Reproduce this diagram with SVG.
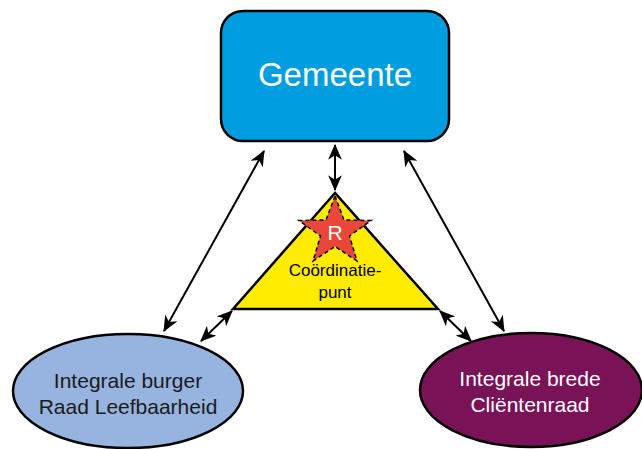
<svg xmlns="http://www.w3.org/2000/svg" width="642" height="449" viewBox="0 0 642 449">
<style>
text{font-family:"Liberation Sans",Arial,sans-serif;text-anchor:middle}
.conn{stroke:#000;stroke-width:2;fill:none;marker-start:url(#ah);marker-end:url(#ah)}
.node{stroke:#000;stroke-width:2.5}
</style>
<defs>
<marker id="ah" viewBox="0 0 14 12" refX="13" refY="6" markerWidth="8" markerHeight="7" markerUnits="strokeWidth" orient="auto-start-reverse">
<path d="M0,0 L14,6 L0,12 L4,6 Z" fill="#000"/>
</marker>
</defs>
<g id="connectors">
<line class="conn" x1="335" y1="145" x2="335" y2="190"/>
<line class="conn" x1="264" y1="151" x2="164" y2="331"/>
<line class="conn" x1="232" y1="311" x2="201" y2="341"/>
<line class="conn" x1="404" y1="151" x2="504" y2="331"/>
<line class="conn" x1="440" y1="311" x2="471" y2="341"/>
</g>
<g id="gemeente">
<rect class="node" x="221" y="11" width="228" height="130" rx="22" fill="#009EE0"/>
<text x="335" y="86" font-size="33" fill="#fff">Gemeente</text>
</g>
<g id="coordinatiepunt">
<polygon class="node" points="335,193 233,309 438,309" fill="#FFEC00"/>
<polygon points="335,196 344,220 371,220.5 349.5,236 357,261 335,246.5 313,261 320.5,236 299,220.5 326,220" fill="#E8473A" stroke="#000" stroke-width="1.5" stroke-dasharray="4,3"/>
<text x="335" y="240" font-size="21" fill="#fff">R</text>
<text x="335" y="276" font-size="17" fill="#000">Coördinatie-</text>
<text x="335" y="298" font-size="17" fill="#000">punt</text>
</g>
<g id="burgerraad">
<ellipse class="node" cx="128" cy="391" rx="115" ry="57" fill="#97B3E0"/>
<text x="128" y="388" font-size="21" fill="#1a1a1a">Integrale burger</text>
<text x="128" y="414" font-size="21" fill="#1a1a1a">Raad Leefbaarheid</text>
</g>
<g id="clientenraad">
<ellipse class="node" cx="531" cy="390" rx="111" ry="57" fill="#7A1257"/>
<text x="530" y="386" font-size="21" fill="#fff">Integrale brede</text>
<text x="530" y="412" font-size="21" fill="#fff">Cliëntenraad</text>
</g>
</svg>
